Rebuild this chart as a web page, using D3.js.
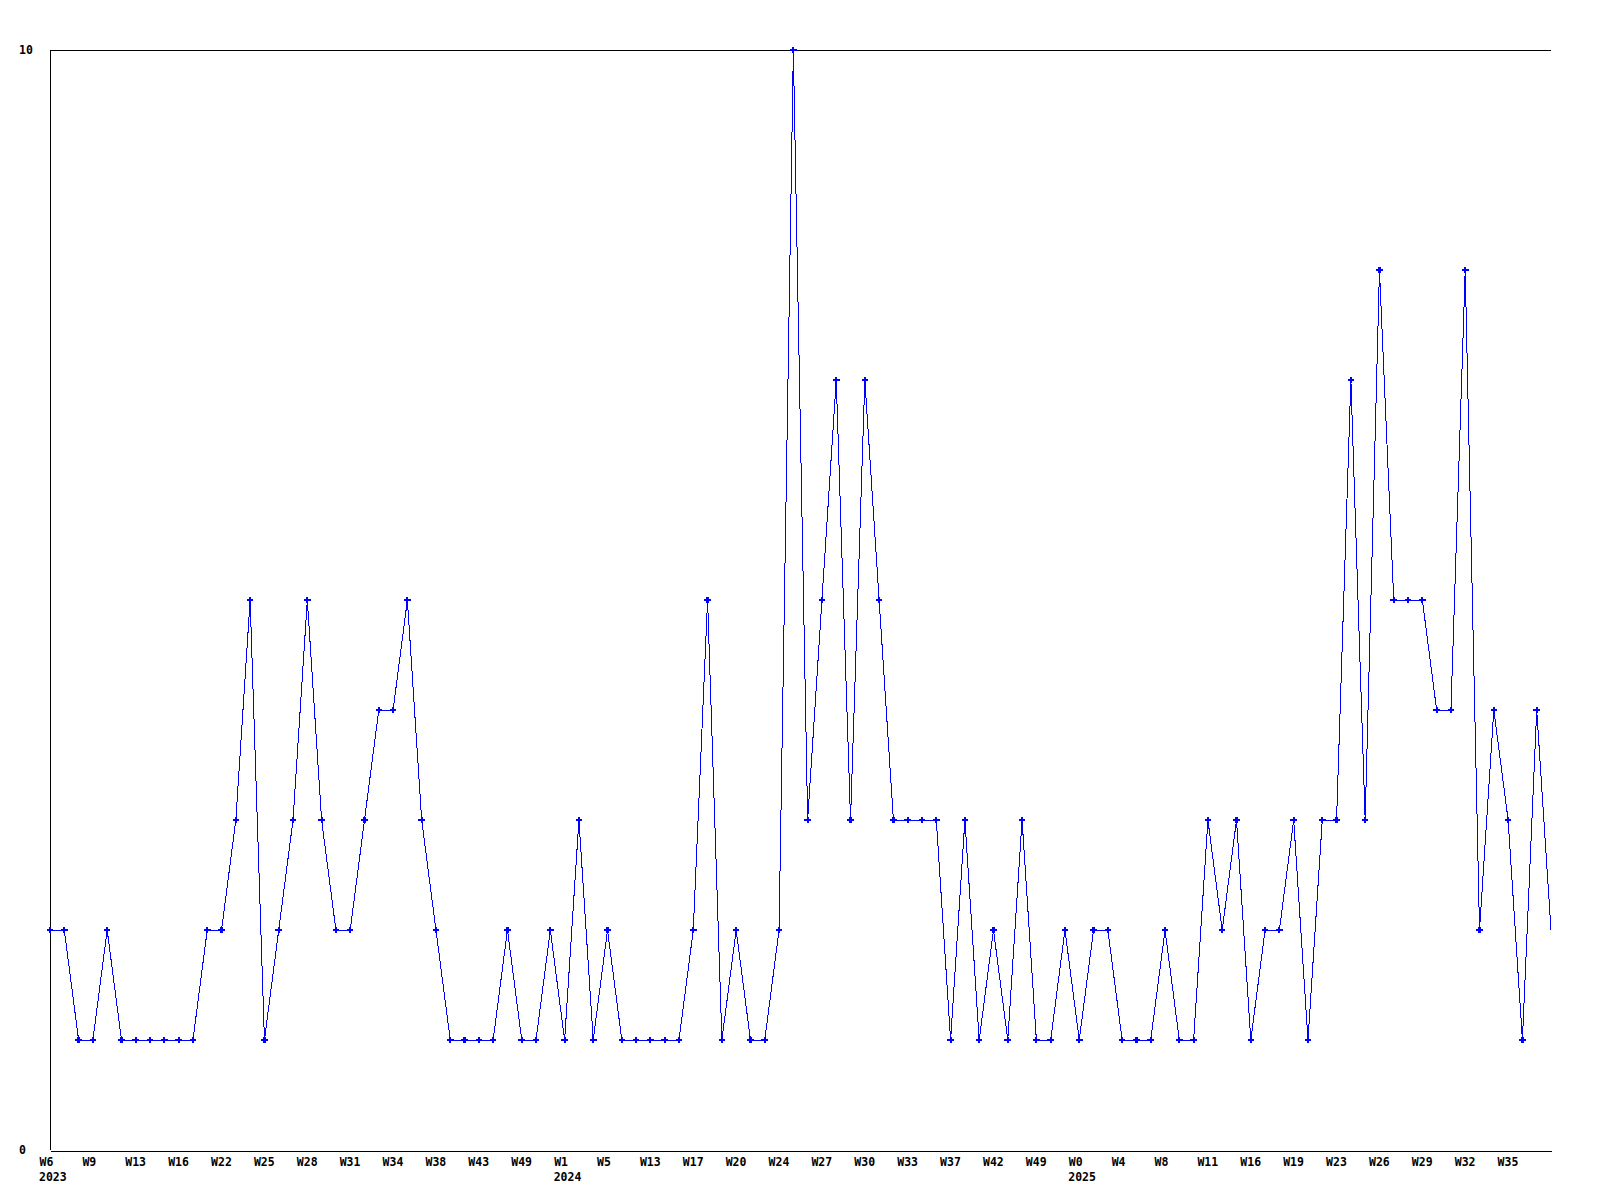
<!DOCTYPE html>
<html>
<head>
<meta charset="utf-8">
<script src="https://cdn.jsdelivr.net/npm/d3@7"></script>
<style>
  html, body { margin: 0; padding: 0; background: #fff; }
  svg { display: block; }
  text { font-family: "DejaVu Sans Mono", "Liberation Mono", monospace; font-weight: bold; font-size: 11.5px; fill: #000; }
</style>
</head>
<body>
<svg id="chart" width="1600" height="1200"></svg>
<script>
// Weekly values (106 weeks)
const values = [
  2, 2, 1, 1, 2, 1, 1, 1, 1, 1,
  1, 2, 2, 3, 5, 1, 2, 3, 5, 3,
  2, 2, 3, 4, 4, 5, 3, 2, 1, 1,
  1, 1, 2, 1, 1, 2, 1, 3, 1, 2,
  1, 1, 1, 1, 1, 2, 5, 1, 2, 1,
  1, 2, 10, 3, 5, 7, 3, 7, 5, 3,
  3, 3, 3, 1, 3, 1, 2, 1, 3, 1,
  1, 2, 1, 2, 2, 1, 1, 1, 2, 1,
  1, 3, 2, 3, 1, 2, 2, 3, 1, 3,
  3, 7, 3, 8, 5, 5, 5, 4, 4, 8,
  2, 4, 3, 1, 4, 2
];
const categories = values.map((d, i) => i);

// x tick labels shown every 3rd week
const tickLabels = [
  "W6", "W9", "W13", "W16", "W22", "W25", "W28", "W31", "W34", "W38", "W43", "W49",
  "W1", "W5", "W13", "W17", "W20", "W24", "W27", "W30", "W33", "W37", "W42", "W49",
  "W0", "W4", "W8", "W11", "W16", "W19", "W23", "W26", "W29", "W32", "W35"
];
const tickStep = 3;
const yearLabels = ["2023", "2024", "2025"];
const yearTickIndex = [0, 36, 72];
const yTicks = [0, 10];

const plotL = 50, plotR = 1551, plotT = 50, plotB = 1150;
const svg = d3.select("#chart");

const x = d3.scaleLinear().domain([0, categories.length - 1]).range([plotL, plotR]);
const y = d3.scaleLinear().domain([0, 10]).range([plotB, plotT]);

// frame: top, left
svg.append("line").attr("x1", plotL).attr("x2", plotR).attr("y1", plotT + 0.5).attr("y2", plotT + 0.5)
  .attr("stroke", "#000").attr("shape-rendering", "crispEdges");
svg.append("line").attr("x1", plotL + 0.5).attr("x2", plotL + 0.5).attr("y1", plotT).attr("y2", plotB)
  .attr("stroke", "#000").attr("shape-rendering", "crispEdges");

// bottom axis
const tickIdx = tickLabels.map((d, i) => i * tickStep);
const xAxis = d3.axisBottom(x).tickValues(tickIdx)
  .tickFormat((d, i) => tickLabels[i]).tickSize(0).tickSizeOuter(0);
const gx = svg.append("g").attr("transform", `translate(0,${plotB + 0.5})`).call(xAxis);
gx.select(".domain").attr("stroke", "#000").attr("shape-rendering", "crispEdges");
gx.selectAll(".tick text").attr("text-anchor", "start").attr("x", -11).attr("y", 7).attr("dy", "0.71em")
  .attr("fill", "#000");
gx.attr("font-family", null).attr("font-size", null);

// year labels
svg.append("g").selectAll("text").data(yearLabels).join("text")
  .attr("x", (d, i) => x(yearTickIndex[i]) - 11)
  .attr("y", plotB + 31)
  .text(d => d);

// y labels
svg.append("g").selectAll("text").data(yTicks).join("text")
  .attr("x", 19)
  .attr("y", d => y(d) + 4)
  .text(d => d);

// line
const line = d3.line().x((d, i) => x(i)).y(d => y(d));
svg.append("path").datum(values)
  .attr("d", line)
  .attr("fill", "none")
  .attr("stroke", "#0000ff")
  .attr("stroke-width", 1)
  .attr("shape-rendering", "crispEdges");

// markers
const sym = d3.symbol().type(d3.symbolCross).size(24);
svg.append("g").selectAll("path").data(values.slice(0, values.length - 1)).join("path")
  .attr("transform", (d, i) => `translate(${x(i)},${y(d)})`)
  .attr("d", sym)
  .attr("fill", "#0000ff")
  .attr("shape-rendering", "crispEdges");
</script>
</body>
</html>
